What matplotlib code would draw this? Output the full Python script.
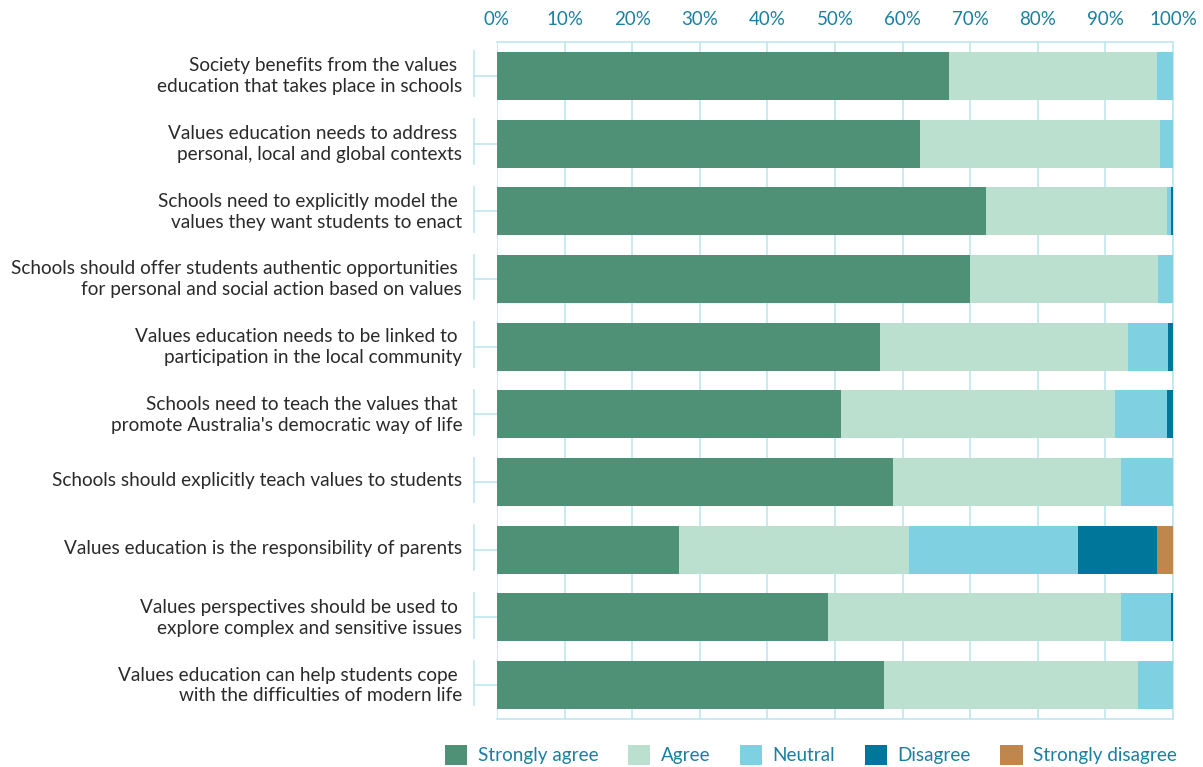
import numpy as np
import matplotlib.pyplot as plt
from matplotlib.patches import Patch
import matplotlib.transforms as mtransforms

plt.rcParams["font.family"] = ["Lato", "DejaVu Sans"]

statements = [
    "Society benefits from the values \neducation that takes place in schools",
    "Values education needs to address \npersonal, local and global contexts",
    "Schools need to explicitly model the \nvalues they want students to enact",
    "Schools should offer students authentic opportunities \nfor personal and social action based on values",
    "Values education needs to be linked to \nparticipation in the local community",
    "Schools need to teach the values that \npromote Australia's democratic way of life",
    "Schools should explicitly teach values to students",
    "Values education is the responsibility of parents",
    "Values perspectives should be used to \nexplore complex and sensitive issues",
    "Values education can help students cope \nwith the difficulties of modern life",
]

series_names = ["Strongly agree", "Agree", "Neutral", "Disagree", "Strongly disagree"]

strongly_agree = [66.9, 62.6, 72.3, 70.0, 56.7, 50.9, 58.6, 26.9, 49.0, 57.2]
agree = [30.7, 35.5, 26.8, 27.8, 36.6, 40.5, 33.7, 34.0, 43.3, 37.6]
neutral = [2.4, 1.9, 0.6, 2.2, 6.0, 7.7, 7.7, 25.0, 7.4, 5.2]
disagree = [0.0, 0.0, 0.3, 0.0, 0.7, 0.9, 0.0, 11.7, 0.3, 0.0]
strongly_disagree = [0.0, 0.0, 0.0, 0.0, 0.0, 0.0, 0.0, 2.4, 0.0, 0.0]

colors = ["#4f9177", "#bbe0cf", "#7fd0e0", "#00779a", "#bf874d"]
TEAL = "#1b7f9f"
GRID = "#bfe6ee"

fig = plt.figure(figsize=(12.03, 7.67), dpi=100, facecolor="white")
ax = fig.add_axes([497 / 1203, 1 - 719 / 767, 676 / 1203, 677 / 767])

y = np.arange(len(statements))
left = np.zeros(len(statements))
all_series = [strongly_agree, agree, neutral, disagree, strongly_disagree]
for name, vals, c in zip(series_names, all_series, colors):
    vals = np.array(vals)
    ax.barh(y, vals, left=left, height=0.71, color=c, label=name, zorder=3)
    left += vals

ax.set_xlim(0, 100)
ax.set_ylim(len(statements) - 0.5, -0.5)

ax.xaxis.tick_top()
ax.set_xticks(np.arange(0, 101, 10))
ax.set_xticklabels([f"{v}%" for v in range(0, 101, 10)], color=TEAL, fontsize=13.5)
ax.tick_params(axis="x", length=0, pad=10)
ax.grid(axis="x", color=GRID, linewidth=1.2, zorder=0)

ax.set_yticks(y)
ax.set_yticklabels(statements, fontsize=13.7, color="#2a2a2a", linespacing=1.27)
ax.tick_params(axis="y", length=17, color=GRID, width=1.2, pad=8)
shift = mtransforms.ScaledTranslation(0, 3 / 100, fig.dpi_scale_trans)
for lab in ax.get_yticklabels():
    lab.set_transform(lab.get_transform() + shift)

for side, sp in ax.spines.items():
    sp.set_color(GRID)
    sp.set_linewidth(1.2)
ax.spines["left"].set_visible(False)

# short axis segments left of the bars
trans = mtransforms.blended_transform_factory(ax.transAxes, ax.transData)
for yi in y:
    ax.plot([-0.034, -0.034], [yi - 0.36, yi + 0.3], color=GRID, lw=1.2,
            transform=trans, clip_on=False)

handles = [Patch(facecolor=c, label=n) for n, c in zip(series_names, colors)]
leg = fig.legend(handles=handles, loc="center", bbox_to_anchor=(811 / 1203, 1 - 755 / 767),
                 ncol=5, frameon=False, fontsize=13.6, handlelength=1.2, handleheight=1.2,
                 columnspacing=1.55, handletextpad=0.55)
for t in leg.get_texts():
    t.set_color(TEAL)

fig.savefig("out.png", dpi=100, facecolor="white")
